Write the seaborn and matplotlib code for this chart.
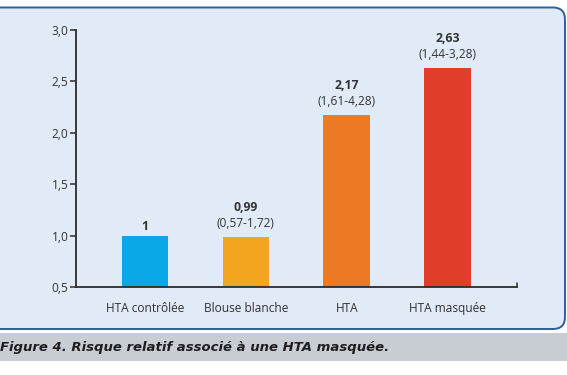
import matplotlib
matplotlib.use("Agg")
import matplotlib.pyplot as plt
from matplotlib.patches import FancyBboxPatch, Rectangle
import seaborn as sns
import pandas as pd

categories = ["HTA contrôlée", "Blouse blanche", "HTA", "HTA masquée"]
values = [1.0, 0.99, 2.17, 2.63]
value_labels = ["1", "0,99", "2,17", "2,63"]
ci_labels = ["", "(0,57-1,72)", "(1,61-4,28)", "(1,44-3,28)"]
colors = ["#0ba8e8", "#f4a51f", "#ec7a24", "#e03d2b"]
yticks = [0.5, 1.0, 1.5, 2.0, 2.5, 3.0]
ytick_labels = ["0,5", "1,0", "1,5", "2,0", "2,5", "3,0"]
caption = "Figure 4. Risque relatif associé à une HTA masquée."

sns.set_theme(style="white")
plt.rcParams["font.family"] = ["Open Sans", "DejaVu Sans"]

fig = plt.figure(figsize=(5.67, 3.75), dpi=100)
fig.patch.set_facecolor("white")

# background panel in pixel coordinates
bg = fig.add_axes([0, 0, 1, 1], zorder=-1)
bg.set_xlim(0, 567)
bg.set_ylim(375, 0)
bg.axis("off")
bg.add_patch(FancyBboxPatch((-30, 7.5), 595, 321.5,
                            boxstyle="round,pad=0,rounding_size=12",
                            facecolor="#e0ebf7", edgecolor="#2f5f99", linewidth=1.4))
bg.add_patch(Rectangle((-1, 333), 569, 28, facecolor="#c8ccd3", edgecolor="none"))
bg.text(0.5, 348, caption, fontsize=9.5, fontweight="bold", fontstyle="italic",
        color="#1e1e1e", va="center", ha="left", family=["DejaVu Sans"])

ax = fig.add_axes([76 / 567, 1 - 287 / 375, (517 - 76) / 567, (287 - 30) / 375])
ax.patch.set_alpha(0)

df = pd.DataFrame({"cat": categories, "val": values})
sns.barplot(data=df, x="cat", y="val", hue="cat", palette=colors, legend=False,
            width=0.462, saturation=1, linewidth=0, ax=ax)

ax.set_ylim(0.5, 3.0)
ax.set_xlim(-0.684, 3.687)
ax.set_yticks(yticks)
ax.set_yticklabels(ytick_labels)
ax.set_xlabel("")
ax.set_ylabel("")
for s in ["top", "right"]:
    ax.spines[s].set_visible(False)
for s in ["left", "bottom"]:
    ax.spines[s].set_color("#2b2b2b")
    ax.spines[s].set_linewidth(1.3)
ax.tick_params(axis="y", length=4, width=1.1, color="#2b2b2b", labelsize=8.6,
               labelcolor="#333333", pad=1.5, left=True)
ax.tick_params(axis="x", length=0, labelsize=8.6, labelcolor="#333333", pad=10.5)
# small end tick at right of x axis
ax.plot([1, 1], [0, 0.014], transform=ax.transAxes, color="#2b2b2b",
        linewidth=1.1, clip_on=False)

for i, (v, vl, ci) in enumerate(zip(values, value_labels, ci_labels)):
    if ci:
        ax.annotate(ci, (i, v), xytext=(0, 5), textcoords="offset points",
                    ha="center", va="bottom", fontsize=8.6, color="#333333")
        ax.annotate(vl, (i, v), xytext=(0, 16.5), textcoords="offset points",
                    ha="center", va="bottom", fontsize=8.8, fontweight="bold",
                    color="#333333")
    else:
        ax.annotate(vl, (i, v), xytext=(0, 2), textcoords="offset points",
                    ha="center", va="bottom", fontsize=8.8, fontweight="bold",
                    color="#333333")

fig.savefig("out.png", dpi=100)
